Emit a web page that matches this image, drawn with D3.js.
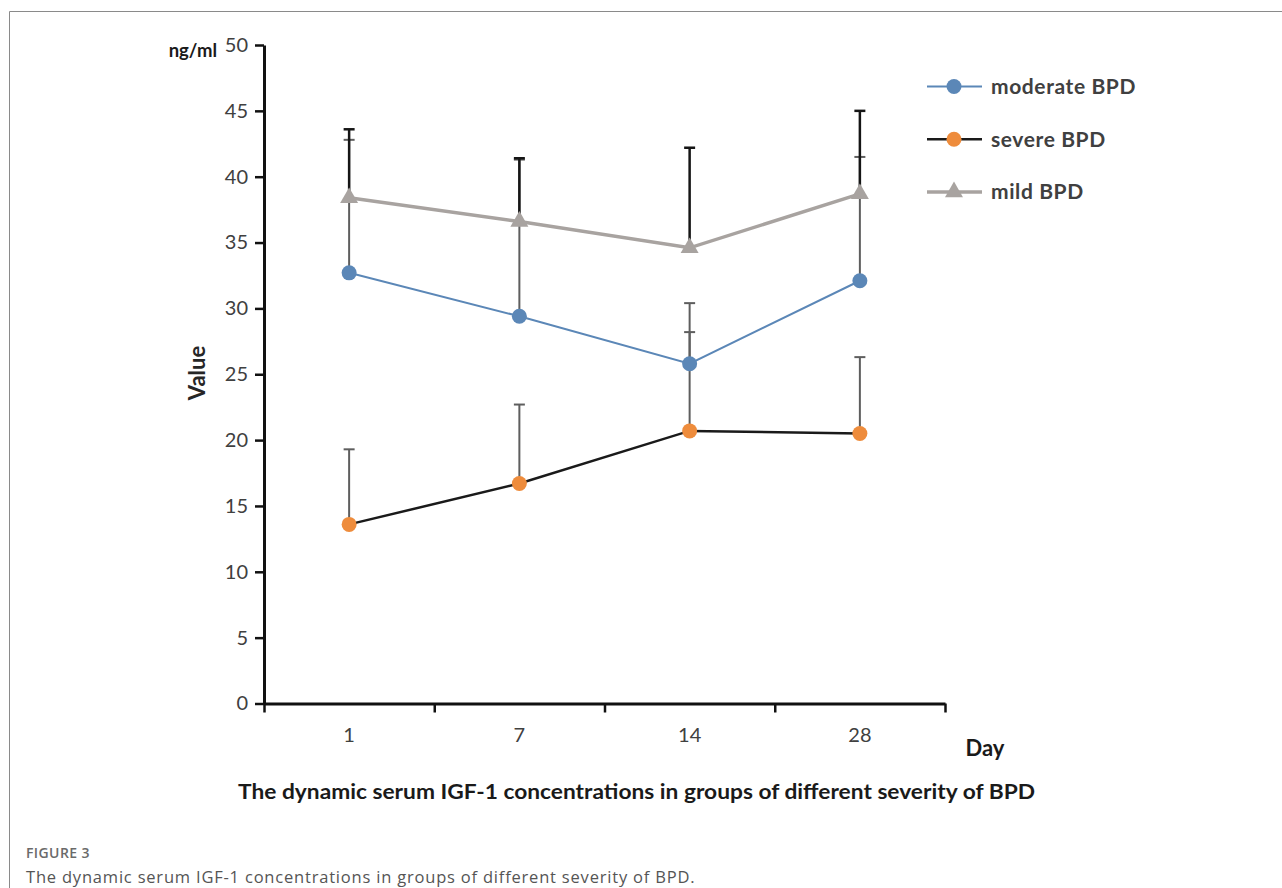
<!DOCTYPE html>
<html>
<head>
<meta charset="utf-8">
<script src="https://cdn.jsdelivr.net/npm/d3@7"></script>
<style>
  html, body { margin: 0; padding: 0; background: #fff; }
  svg { display: block; }
</style>
</head>
<body>
<svg id="chart" width="1282" height="888"></svg>
<script>
// ---- data ----
const days = ["1", "7", "14", "28"];
const yTicks = [0, 5, 10, 15, 20, 25, 30, 35, 40, 45, 50];
const seriesNames = ["moderate BPD", "severe BPD", "mild BPD"];
const moderate = [32.7, 29.4, 25.8, 32.1];
const moderateUpper = [42.8, 41.3, 30.4, 41.5];
const severe = [13.6, 16.7, 20.7, 20.5];
const severeUpper = [19.3, 22.7, 28.2, 26.3];
const mild = [38.4, 36.6, 34.6, 38.7];
const mildUpper = [43.6, 41.4, 42.2, 45.0];
const chartTitle = "The dynamic serum IGF-1 concentrations in groups of different severity of BPD";
const figureLabel = "FIGURE 3";
const figureCaption = "The dynamic serum IGF-1 concentrations in groups of different severity of BPD.";

// ---- styles ----
const series = [
  { name: seriesNames[0], values: moderate, upper: moderateUpper, line: "#5b87b7", lw: 2, marker: "circle", fill: "#5b87b7", err: "#5e5e5e", ew: 2 },
  { name: seriesNames[1], values: severe, upper: severeUpper, line: "#1a1a1a", lw: 2.5, marker: "circle", fill: "#ee8c3c", err: "#5e5e5e", ew: 2 },
  { name: seriesNames[2], values: mild, upper: mildUpper, line: "#a8a3a0", lw: 3.5, marker: "triangle", fill: "#a8a3a0", err: "#151515", ew: 2.5 }
];

const svg = d3.select("#chart");
const font = "Lato, 'Open Sans', sans-serif";
const txt = "#404040";

// frame
svg.append("path").attr("d", "M9.5,888 V11.5 H1282")
  .attr("fill", "none").attr("stroke", "#8a8a8a").attr("stroke-width", 1);

const x = d3.scaleBand().domain(days).range([264, 945]).padding(0);
const xb = d3.scaleLinear().domain([0, days.length]).range([264, 945]);
const y = d3.scaleLinear().domain([0, 50]).range([703.5, 45]);

// y axis
const yAxis = svg.append("g").attr("transform", "translate(264,0)")
  .call(d3.axisLeft(y).tickValues(yTicks).tickSize(9).tickSizeOuter(0).tickPadding(7));
yAxis.select(".domain").attr("stroke", "#111").attr("stroke-width", 3);
yAxis.selectAll(".tick line").attr("stroke", "#111").attr("stroke-width", 2.5);
yAxis.selectAll(".tick text").attr("font-family", font).attr("font-size", 20).attr("fill", txt);

// x axis (boundary ticks)
const xAxisB = svg.append("g").attr("transform", "translate(0,703.5)")
  .call(d3.axisBottom(xb).ticks(days.length).tickSize(9).tickSizeOuter(0).tickFormat(""));
xAxisB.select(".domain").attr("stroke", "#111").attr("stroke-width", 3);
xAxisB.selectAll(".tick line").attr("stroke", "#111").attr("stroke-width", 2.5);

// x labels
const xAxisL = svg.append("g").attr("transform", "translate(0,703.5)")
  .call(d3.axisBottom(x).tickSize(0).tickPadding(24));
xAxisL.select(".domain").remove();
xAxisL.selectAll(".tick text").attr("font-family", font).attr("font-size", 20).attr("fill", txt);

// axis titles
svg.append("text").attr("x", 217).attr("y", 57).attr("text-anchor", "end")
  .attr("font-family", font).attr("font-weight", "bold").attr("font-size", 18.5)
  .attr("fill", "#1a1a1a").text("ng/ml");
svg.append("text").attr("transform", "translate(205,373) rotate(-90)").attr("text-anchor", "middle")
  .attr("font-family", font).attr("font-weight", "bold").attr("font-size", 22)
  .attr("fill", "#262626").text("Value");
svg.append("text").attr("x", 985).attr("y", 756).attr("text-anchor", "middle")
  .attr("font-family", font).attr("font-weight", "bold").attr("font-size", 22)
  .attr("fill", "#1a1a1a").text("Day");
svg.append("text").attr("x", 636.5).attr("y", 799).attr("text-anchor", "middle")
  .attr("font-family", font).attr("font-weight", "bold").attr("font-size", 20)
  .attr("fill", "#1a1a1a").attr("textLength", 797).attr("lengthAdjust", "spacingAndGlyphs")
  .text(chartTitle);

// error bars
const cx = d => x(d) + x.bandwidth() / 2;
series.forEach(s => {
  const g = svg.append("g").attr("stroke", s.err).attr("stroke-width", s.ew).attr("fill", "none");
  days.forEach((d, i) => {
    g.append("line").attr("x1", cx(d)).attr("x2", cx(d)).attr("y1", y(s.values[i])).attr("y2", y(s.upper[i]));
    g.append("line").attr("x1", cx(d) - 5.5).attr("x2", cx(d) + 5.5).attr("y1", y(s.upper[i])).attr("y2", y(s.upper[i]));
  });
});

// lines
const lineGen = d3.line().x((v, i) => cx(days[i])).y(v => y(v));
series.forEach(s => {
  svg.append("path").datum(s.values).attr("d", lineGen)
    .attr("fill", "none").attr("stroke", s.line).attr("stroke-width", s.lw);
});

// markers
const tri = d3.symbol().type(d3.symbolTriangle).size(140);
function drawMarker(g, s, px, py) {
  if (s.marker === "circle") {
    g.append("circle").attr("cx", px).attr("cy", py).attr("r", 7.5).attr("fill", s.fill);
  } else {
    g.append("path").attr("d", tri()).attr("transform", `translate(${px},${py})`).attr("fill", s.fill);
  }
}
series.forEach(s => {
  const g = svg.append("g");
  s.values.forEach((v, i) => drawMarker(g, s, cx(days[i]), y(v)));
});

// legend
const legY = d3.scalePoint().domain(seriesNames).range([86.5, 192]);
series.forEach(s => {
  const ly = legY(s.name);
  svg.append("line").attr("x1", 927).attr("x2", 982).attr("y1", ly).attr("y2", ly)
    .attr("stroke", s.line).attr("stroke-width", s.lw);
  drawMarker(svg, s, 954, ly);
  svg.append("text").attr("x", 991).attr("y", ly).attr("dy", "0.35em")
    .attr("font-family", font).attr("font-weight", "bold").attr("font-size", 21)
    .attr("letter-spacing", 0.6).attr("fill", txt).text(s.name);
});

// figure caption
svg.append("text").attr("x", 26).attr("y", 858)
  .attr("font-family", "'Open Sans', sans-serif").attr("font-weight", 600).attr("font-size", 14)
  .attr("letter-spacing", 0.4).attr("fill", "#6a6a6a").text(figureLabel);
svg.append("text").attr("x", 26).attr("y", 883)
  .attr("font-family", "'Open Sans', sans-serif").attr("font-size", 16.5)
  .attr("letter-spacing", 0.8).attr("fill", "#555").text(figureCaption);
</script>
</body>
</html>
